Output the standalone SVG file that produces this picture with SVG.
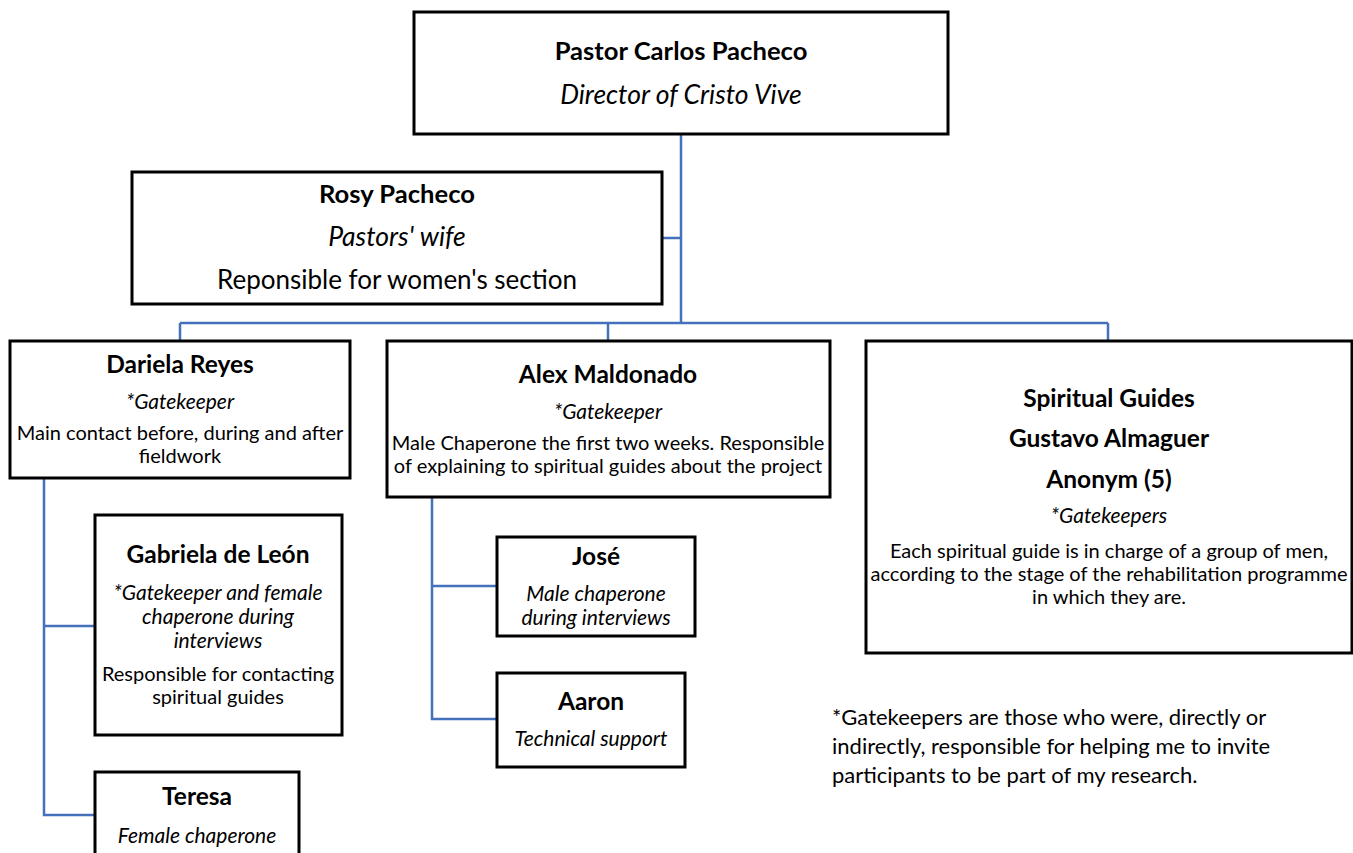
<svg xmlns="http://www.w3.org/2000/svg" width="1353" height="853" viewBox="0 0 1353 853">
<style>
.box{fill:#fff;stroke:#000;stroke-width:3}
.con{fill:none;stroke:#4570BC;stroke-width:2.5}
text{font-family:Lato,"Open Sans",sans-serif;fill:#000;text-anchor:middle}
.h{font-weight:bold;font-size:24.5px}
.H{font-weight:bold;font-size:25.6px}
.hi{font-style:italic;font-size:26.5px}
.hr{font-size:26px}
.i{font-style:italic;font-size:21px}
.b{font-size:20px}
.n{font-size:22px;text-anchor:start}
</style>
<rect width="1353" height="853" fill="#fff"/>
<g id="connectors">
<path class="con" d="M681 134V323M662 238H681M180 323H1108M180 323V341M608 323V341M1108 323V341"/>
<path class="con" d="M44 478V815H95M44 626H95"/>
<path class="con" d="M432 497V719H497M432 586H497"/>
</g>
<g id="n-carlos">
<rect class="box" x="414" y="12" width="534" height="122"/>
<text class="H" x="681" y="60">Pastor Carlos Pacheco</text>
<text class="hi" x="681" y="104">Director of Cristo Vive</text>
</g>
<g id="n-rosy">
<rect class="box" x="132" y="172" width="530" height="132"/>
<text class="H" x="397" y="203">Rosy Pacheco</text>
<text class="hi" x="397" y="246">Pastors' wife</text>
<text class="hr" x="397" y="289">Reponsible for women's section</text>
</g>
<g id="n-dariela">
<rect class="box" x="10" y="341" width="340" height="137"/>
<text class="h" x="180" y="373">Dariela Reyes</text>
<text class="i" x="180" y="409">*Gatekeeper</text>
<text class="b" x="180" y="440">Main contact before, during and after</text>
<text class="b" x="180" y="463">fieldwork</text>
</g>
<g id="n-alex">
<rect class="box" x="387" y="341" width="443" height="156"/>
<text class="h" x="608" y="383">Alex Maldonado</text>
<text class="i" x="608" y="419">*Gatekeeper</text>
<text class="b" x="608" y="450">Male Chaperone the first two weeks. Responsible</text>
<text class="b" x="608" y="473">of explaining to spiritual guides about the project</text>
</g>
<g id="n-spiritual">
<rect class="box" x="866" y="341" width="486" height="312"/>
<text class="h" x="1109" y="407">Spiritual Guides</text>
<text class="h" x="1109" y="447">Gustavo Almaguer</text>
<text class="h" x="1109" y="488">Anonym (5)</text>
<text class="i" x="1109" y="523">*Gatekeepers</text>
<text class="b" x="1109" y="558">Each spiritual guide is in charge of a group of men,</text>
<text class="b" x="1109" y="581">according to the stage of the rehabilitation programme</text>
<text class="b" x="1109" y="604">in which they are.</text>
</g>
<g id="n-gabriela">
<rect class="box" x="95" y="515" width="247" height="220"/>
<text class="h" x="218" y="563">Gabriela de León</text>
<text class="i" x="218" y="600">*Gatekeeper and female</text>
<text class="i" x="218" y="624">chaperone during</text>
<text class="i" x="218" y="648">interviews</text>
<text class="b" x="218" y="681">Responsible for contacting</text>
<text class="b" x="218" y="704">spiritual guides</text>
</g>
<g id="n-teresa">
<rect class="box" x="95" y="772" width="204" height="110"/>
<text class="h" x="197" y="805">Teresa</text>
<text class="i" x="197" y="843">Female chaperone</text>
</g>
<g id="n-jose">
<rect class="box" x="497" y="537" width="198" height="99"/>
<text class="h" x="596" y="565">José</text>
<text class="i" x="596" y="601">Male chaperone</text>
<text class="i" x="596" y="625">during interviews</text>
</g>
<g id="n-aaron">
<rect class="box" x="497" y="673" width="188" height="94"/>
<text class="h" x="591" y="710">Aaron</text>
<text class="i" x="591" y="746">Technical support</text>
</g>
<g id="note">
<text class="n" x="832" y="725">*Gatekeepers are those who were, directly or</text>
<text class="n" x="832" y="754">indirectly, responsible for helping me to invite</text>
<text class="n" x="832" y="783">participants to be part of my research.</text>
</g>
</svg>
